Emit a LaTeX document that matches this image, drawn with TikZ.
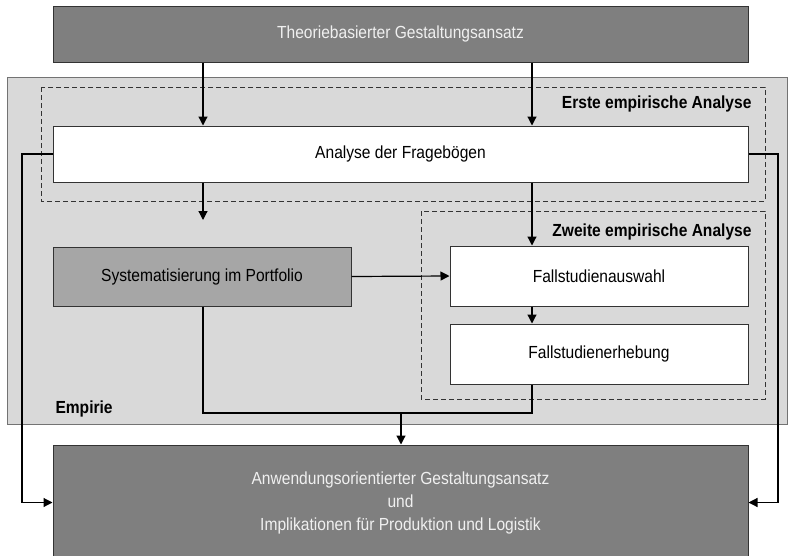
\documentclass[tikz,border=0pt]{standalone}
\usepackage{fontspec}
\setmainfont{Liberation Sans}[FakeStretch=0.89]
\usetikzlibrary{arrows.meta}
\definecolor{dunkel}{HTML}{7F7F7F}
\definecolor{mittel}{HTML}{A6A6A6}
\definecolor{hell}{HTML}{D9D9D9}
\begin{document}
\begin{tikzpicture}
          [x = 1pt, y = -1pt, >= {Triangle[width=9pt,length=9pt]},
           font = \fontsize{17.5}{23}\selectfont, line width = 1pt,
           kasten/.style = {draw = black!80, minimum width = 695pt, minimum height = 56pt, align = center, inner sep = 0pt},
           dunkelkasten/.style = {kasten, fill = dunkel, text = white!94!black},
           klein/.style = {kasten, minimum width = 298pt, minimum height = 60pt},
           titel/.style = {font = \fontsize{17.5}{23}\selectfont\bfseries, inner sep = 0pt},
           rahmen/.style = {draw = black!80, dashed, dash pattern = on 5pt off 3pt},
           pfeil/.style = {line width = 1.2pt}]
          \useasboundingbox (0,0) rectangle (788,555);
          \fill[hell, draw = black!55] (7,77) rectangle (787,424);
          \draw[rahmen] (41,87) rectangle (765,201);
          \draw[rahmen] (421,211) rectangle (765,399);
          \node[dunkelkasten] (theorie) at (400.5,34) {Theoriebasierter Gestaltungsansatz};
          \node[kasten, fill = white] (frageboegen) at (400.5,154) {Analyse der Fragebögen};
          \node[klein, fill = mittel, minimum height = 59pt] (portfolio) at (202,276.5) {Systematisierung im Portfolio};
          \node[klein, fill = white] (auswahl) at (599,276) {Fallstudienauswahl};
          \node[klein, fill = white] (erhebung) at (599,354) {Fallstudienerhebung};
          \node[dunkelkasten, minimum height = 115pt] (anwendung) at (400.5,502.5)
            {Anwendungsorientierter Gestaltungsansatz\\und\\Implikationen für Produktion und Logistik};
          \node[titel, anchor = east] (erste) at (752,104) {Erste empirische Analyse};
          \node[titel, anchor = east] (zweite) at (752,232) {Zweite empirische Analyse};
          \node[titel, anchor = west] (empirie) at (55,409) {Empirie};
          \coordinate (links) at (203,0);
          \coordinate (rechts) at (532,0);
          \coordinate (aussenl) at (22,0);
          \coordinate (aussenr) at (778,0);
          \coordinate (portein) at (203,220);
          \coordinate (zusammen) at (401,413);
          \draw[pfeil, ->] (theorie.south -| links) -- (frageboegen.north -| links);
          \draw[pfeil, ->] (theorie.south -| rechts) -- (frageboegen.north -| rechts);
          \draw[pfeil, ->] (frageboegen.south -| links) -- (portein);
          \draw[pfeil, ->] (frageboegen.south -| rechts) -- (auswahl.north -| rechts);
          \draw[pfeil, ->] (portfolio.east) -- (auswahl.west);
          \draw[pfeil, ->] (auswahl.south -| rechts) -- (erhebung.north -| rechts);
          \draw[pfeil] (portfolio.south -| links) |- (zusammen) -| (erhebung.south -| rechts);
          \draw[pfeil, ->] (zusammen) -- (anwendung.north -| zusammen);
          \draw[pfeil, ->] (frageboegen.west) -| (aussenl |- anwendung.west) -- (anwendung.west);
          \draw[pfeil, ->] (frageboegen.east) -| (aussenr |- anwendung.east) -- (anwendung.east);
        \end{tikzpicture}
\end{document}
